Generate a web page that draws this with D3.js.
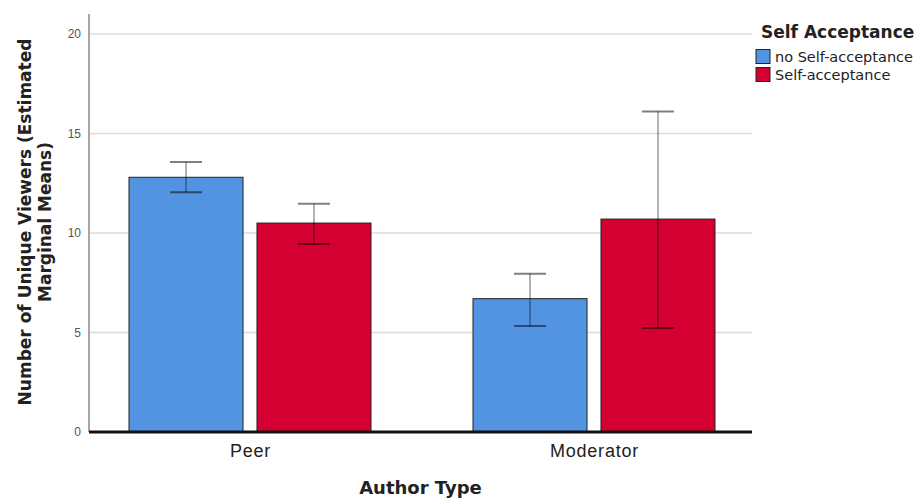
<!DOCTYPE html>
<html lang="en">
<head>
<meta charset="UTF-8">
<title>Unique Viewers by Author Type</title>
<script src="https://d3js.org/d3.v7.min.js"></script>
<style>
  body { margin: 0; background: #fff; }
  svg { font-family: "DejaVu Sans", sans-serif; }
</style>
</head>
<body>
<div id="chart"></div>
<script>
    // Data
    var categories = ["Peer", "Moderator"];
    var groups = ["no Self-acceptance", "Self-acceptance"];
    var means = [[12.8, 10.5], [6.7, 10.7]];
    var lower = [[12.05, 9.45], [5.33, 5.23]];
    var upper = [[13.57, 11.47], [7.95, 16.11]];
    var yTicks = [0, 5, 10, 15, 20];
    var colors = ["#5294e2", "#d50032"];

    var width = 924, height = 498;
    var plot = { left: 89, right: 752, top: 14, bottom: 432 };

    var svg = d3.select("#chart")
        .append("svg")
        .attr("width", width)
        .attr("height", height);

    // Scales
    var y = d3.scaleLinear()
        .domain([0, 20])
        .range([plot.bottom, 34]);

    var x = d3.scalePoint()
        .domain(categories)
        .range([250, 594]);

    var xSub = d3.scaleBand()
        .domain(d3.range(groups.length))
        .range([-121, 121])
        .paddingInner(0.109);

    // Gridlines
    svg.append("g")
        .selectAll("line")
        .data(yTicks.slice(1))
        .enter()
        .append("line")
        .attr("x1", plot.left + 1)
        .attr("x2", plot.right)
        .attr("y1", function(d) { return y(d); })
        .attr("y2", function(d) { return y(d); })
        .attr("stroke", "#dcdcdc")
        .attr("stroke-width", 1.5);

    // Y axis
    var yAxis = svg.append("g")
        .attr("transform", "translate(" + plot.left + ",0)")
        .call(d3.axisLeft(y).tickValues(yTicks).tickSize(0).tickPadding(8));
    yAxis.select(".domain").remove();
    yAxis.selectAll("text")
        .attr("fill", "#555")
        .style("font-size", "12px");

    svg.append("line")
        .attr("x1", plot.left).attr("x2", plot.left)
        .attr("y1", plot.top).attr("y2", plot.bottom)
        .attr("stroke", "#888")
        .attr("stroke-width", 1.5);

    // Bars
    var rows = [];
    categories.forEach(function(c, i) {
        groups.forEach(function(g, j) {
            rows.push({ cat: c, idx: j, mean: means[i][j], lo: lower[i][j], hi: upper[i][j] });
        });
    });

    svg.append("g")
        .selectAll("rect")
        .data(rows)
        .enter()
        .append("rect")
        .attr("x", function(d) { return x(d.cat) + xSub(d.idx); })
        .attr("y", function(d) { return y(d.mean); })
        .attr("width", xSub.bandwidth())
        .attr("height", function(d) { return y(0) - y(d.mean); })
        .attr("fill", function(d) { return colors[d.idx]; })
        .attr("stroke", "#222")
        .attr("stroke-width", 1);

    // Error bars
    var err = svg.append("g")
        .selectAll("g")
        .data(rows)
        .enter()
        .append("g")
        .attr("stroke", "#000")
        .attr("stroke-opacity", 0.5);

    function cx(d) { return x(d.cat) + xSub(d.idx) + xSub.bandwidth() / 2; }

    err.append("line")
        .attr("x1", cx).attr("x2", cx)
        .attr("y1", function(d) { return y(d.lo); })
        .attr("y2", function(d) { return y(d.hi); })
        .attr("stroke-width", 1.2);
    err.selectAll("line.cap")
        .data(function(d) { return [[d, d.lo], [d, d.hi]]; })
        .enter()
        .append("line")
        .attr("class", "cap")
        .attr("x1", function(p) { return cx(p[0]) - 16; })
        .attr("x2", function(p) { return cx(p[0]) + 16; })
        .attr("y1", function(p) { return y(p[1]); })
        .attr("y2", function(p) { return y(p[1]); })
        .attr("stroke-width", 2);

    // Baseline
    svg.append("line")
        .attr("x1", plot.left).attr("x2", plot.right)
        .attr("y1", y(0)).attr("y2", y(0))
        .attr("stroke", "#111")
        .attr("stroke-width", 3);

    // X axis labels
    var xAxis = svg.append("g")
        .attr("transform", "translate(0," + (plot.bottom + 3) + ")")
        .call(d3.axisBottom(x).tickSize(0).tickPadding(9));
    xAxis.select(".domain").remove();
    xAxis.selectAll("text")
        .attr("fill", "#222")
        .style("font-size", "18px")
        .style("letter-spacing", "0.8px");

    // Axis titles
    svg.append("text")
        .attr("x", (plot.left + plot.right) / 2)
        .attr("y", 494)
        .attr("text-anchor", "middle")
        .style("font-size", "18px")
        .style("font-weight", "bold")
        .attr("fill", "#222")
        .text("Author Type");

    var yTitle = svg.append("text")
        .attr("transform", "translate(31,222) rotate(-90)")
        .attr("text-anchor", "middle")
        .style("font-size", "17px")
        .style("font-weight", "bold")
        .attr("fill", "#222");
    yTitle.append("tspan").attr("x", 0).attr("y", 0).text("Number of Unique Viewers (Estimated");
    yTitle.append("tspan").attr("x", 0).attr("y", 20).text("Marginal Means)");

    // Legend
    var legend = svg.append("g");
    legend.append("text")
        .attr("x", 761)
        .attr("y", 38)
        .style("font-size", "17px")
        .style("font-weight", "bold")
        .attr("fill", "#222")
        .text("Self Acceptance");
    var items = legend.selectAll("g.item")
        .data(groups)
        .enter()
        .append("g")
        .attr("class", "item")
        .attr("transform", function(d, i) { return "translate(756," + (49.5 + i * 18) + ")"; });
    items.append("rect")
        .attr("width", 14).attr("height", 14)
        .attr("fill", function(d, i) { return colors[i]; })
        .attr("stroke", "#222");
    items.append("text")
        .attr("x", 19)
        .attr("y", 12)
        .style("font-size", "14.5px")
        .attr("fill", "#222")
        .text(function(d) { return d; });
</script>
</body>
</html>
